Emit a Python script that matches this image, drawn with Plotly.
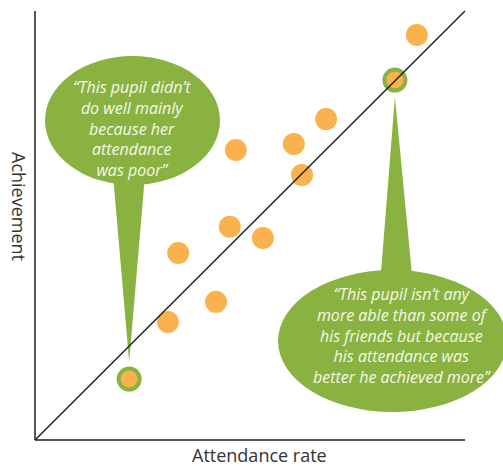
import plotly.graph_objects as go

# ---- data (attendance rate, achievement) on a 0-100 scale ----
attendance = [30.9, 42.1, 33.3, 45.3, 53.0, 46.7, 60.2, 62.1, 67.7, 88.8]
achievement = [27.5, 32.2, 43.6, 49.7, 47.1, 67.6, 69.0, 61.8, 74.8, 94.4]
highlight_att = [21.9, 83.7]
highlight_ach = [14.2, 83.9]
x_label = "Attendance rate"
y_label = "Achievement"
quote_left = ["“This pupil didn’t", "do well mainly", "because her", "attendance", "was poor”"]
quote_right = ["“This pupil isn’t any", "more able than some of", "his friends but because",
               "his attendance was", "better he achieved more”"]

ORANGE = "#F9B24E"
GREEN = "#8AB241"
TEXT_LIGHT = "#F4F8EA"

# pixel -> data helpers (plot spans whole canvas)
W, H = 503, 466
X0PX, X100PX = 35, 465
Y0PX, Y100PX = 440, 11
sx = (X100PX - X0PX) / 100.0
sy = (Y0PX - Y100PX) / 100.0
xr = [-X0PX / sx, (W - X0PX) / sx]
yr = [-(H - Y0PX) / sy, 100 + Y100PX / sy]

def px(x):
    return (x - X0PX) / sx

def py(y):
    return (Y0PX - y) / sy

fig = go.Figure()

shapes = []
# axes
shapes.append(dict(type="line", x0=0, y0=0, x1=0, y1=100, line=dict(color="#555555", width=2)))
shapes.append(dict(type="line", x0=0, y0=0, x1=100, y1=0, line=dict(color="#555555", width=2)))
# diagonal
shapes.append(dict(type="line", x0=0, y0=0, x1=100, y1=100, line=dict(color="#222222", width=1.5)))

# left bubble
shapes.append(dict(type="circle", x0=px(45), x1=px(220), y0=py(185), y1=py(56),
                   fillcolor=GREEN, line=dict(width=0), layer="below"))
lx = highlight_att[0]
shapes.append(dict(type="path",
                   path=f"M {px(113)},{py(175)} L {px(145)},{py(175)} L {lx},{py(362)} Z",
                   fillcolor=GREEN, line=dict(width=0), layer="below"))
# right bubble
shapes.append(dict(type="circle", x0=px(278), x1=px(507), y0=py(412), y1=py(270),
                   fillcolor=GREEN, line=dict(width=0), layer="below"))
rx = highlight_att[1]
shapes.append(dict(type="path",
                   path=f"M {px(380)},{py(285)} L {px(413)},{py(285)} L {rx},{py(97)} Z",
                   fillcolor=GREEN, line=dict(width=0), layer="below"))

fig.add_trace(go.Scatter(x=attendance, y=achievement, mode="markers",
                         marker=dict(size=22, color=ORANGE, line=dict(width=0)),
                         hoverinfo="skip"))
fig.add_trace(go.Scatter(x=highlight_att, y=highlight_ach, mode="markers",
                         marker=dict(size=21, color=ORANGE, line=dict(width=4, color=GREEN)),
                         hoverinfo="skip"))

QFONT = dict(family="Open Sans", size=16, color=TEXT_LIGHT, style="italic")
annotations = [
    dict(x=px(132), y=py(128), text="<br>".join(quote_left), showarrow=False,
         xref="x", yref="y", font=QFONT, align="center"),
    dict(x=px(401.5), y=py(335), text="<br>".join(quote_right), showarrow=False,
         xref="x", yref="y", font=QFONT, align="center"),
    dict(x=px(259.5), y=py(455), text=x_label, showarrow=False, xref="x", yref="y",
         font=dict(family="Open Sans", size=18, color="#333333"), height=18, borderpad=0),
    dict(x=px(19), y=py(206), text=y_label, showarrow=False, xref="x", yref="y", textangle=90,
         font=dict(family="Open Sans", size=18, color="#333333")),
]

fig.update_layout(
    width=W, height=H,
    margin=dict(l=0, r=0, t=0, b=0),
    paper_bgcolor="white", plot_bgcolor="white",
    showlegend=False,
    shapes=shapes, annotations=annotations,
    xaxis=dict(range=xr, visible=False, fixedrange=True),
    yaxis=dict(range=yr, visible=False, fixedrange=True),
)
fig.write_html("out.html", config={"displayModeBar": False},
               post_script="document.body.style.margin='0';document.body.style.overflow='hidden';")
